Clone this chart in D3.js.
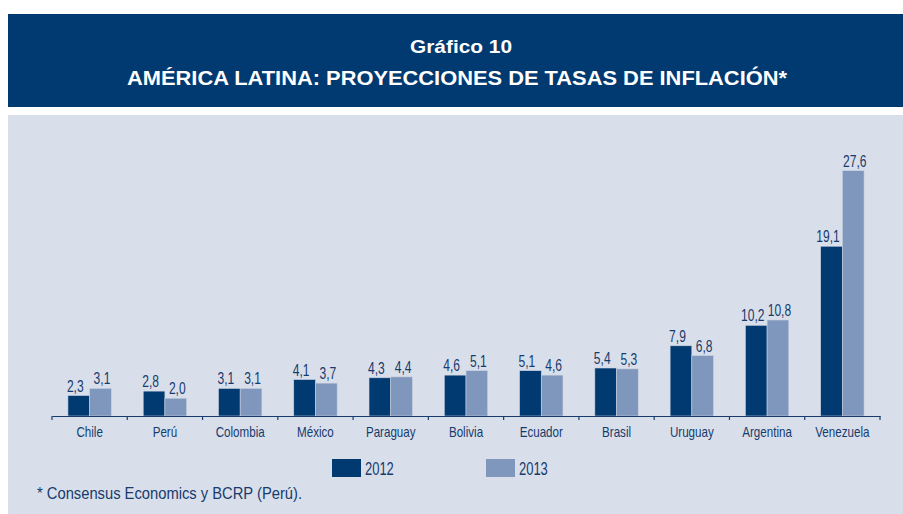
<!DOCTYPE html>
<html>
<head>
<meta charset="utf-8">
<script src="https://cdn.jsdelivr.net/npm/d3@7"></script>
<style>
  body { margin: 0; background: #fff; }
  svg text { font-family: "Liberation Sans", Arial, sans-serif; }
</style>
</head>
<body>
<div id="chart"></div>
<script>
// data
var countries = ["Chile", "Perú", "Colombia", "México", "Paraguay", "Bolivia", "Ecuador", "Brasil", "Uruguay", "Argentina", "Venezuela"];
var series2012 = [2.3, 2.8, 3.1, 4.1, 4.3, 4.6, 5.1, 5.4, 7.9, 10.2, 19.1];
var series2013 = [3.1, 2.0, 3.1, 3.7, 4.4, 5.1, 4.6, 5.3, 6.8, 10.8, 27.6];
var years = ["2012", "2013"];

var colors = { "2012": "#013a70", "2013": "#7f97bd" };
var textColor = "#163b6d";

var W = 903, H = 514;
var svg = d3.select("#chart").append("svg")
    .attr("width", W)
    .attr("height", H);

// squeeze a text horizontally (the original uses a condensed face)
function condense(sel, factor) {
    sel.each(function() {
        var t = d3.select(this);
        var tx = +t.attr("x") || 0, ty = +t.attr("y") || 0;
        t.attr("x", 0).attr("y", 0)
            .attr("transform", "translate(" + tx + "," + ty + ") scale(" + factor + ",1)");
    });
}

// header band
svg.append("rect")
    .attr("x", 8).attr("y", 14)
    .attr("width", W - 8).attr("height", 93)
    .attr("fill", "#013a70");

svg.append("text")
    .attr("x", 461).attr("y", 53)
    .attr("text-anchor", "middle")
    .attr("fill", "#fff")
    .style("font-weight", "bold")
    .style("font-size", "19px")
    .attr("textLength", 102)
    .attr("lengthAdjust", "spacingAndGlyphs")
    .text("Gráfico 10");

svg.append("text")
    .attr("x", 457).attr("y", 85)
    .attr("text-anchor", "middle")
    .attr("fill", "#fff")
    .style("font-weight", "bold")
    .style("font-size", "20px")
    .attr("textLength", 660)
    .attr("lengthAdjust", "spacingAndGlyphs")
    .text("AMÉRICA LATINA: PROYECCIONES DE TASAS DE INFLACIÓN*");

// panel
svg.append("rect")
    .attr("x", 8).attr("y", 115)
    .attr("width", W - 8).attr("height", H - 115)
    .attr("fill", "#d9dfea");

var margin = { left: 52, right: 23 };
var plotW = W - margin.left - margin.right;   // 828
var baseY = 416;

var g = svg.append("g")
    .attr("transform", "translate(" + margin.left + ",0)");

var x = d3.scaleBand()
    .domain(countries)
    .range([0, plotW]);

var x1 = d3.scaleBand()
    .domain(years)
    .range([0, 43.4]);

var y = d3.scaleLinear()
    .domain([0, 27.6])
    .range([baseY, 170.7]);

var rows = countries.map(function(c, i) {
    return { country: c, values: [
        { year: "2012", v: series2012[i] },
        { year: "2013", v: series2013[i] }
    ]};
});

var groups = g.selectAll(".grp")
    .data(rows)
    .enter().append("g")
    .attr("class", "grp")
    .attr("transform", function(d) {
        return "translate(" + (x(d.country) + (x.bandwidth() - 43.4) / 2) + ",0)";
    });

groups.selectAll("rect")
    .data(function(d) { return d.values; })
    .enter().append("rect")
    .attr("x", function(d) { return x1(d.year); })
    .attr("y", function(d) { return y(d.v); })
    .attr("width", x1.bandwidth())
    .attr("height", function(d) { return baseY - y(d.v); })
    .attr("fill", function(d) { return colors[d.year]; })
    .attr("stroke", "#c9d1e1")
    .attr("stroke-width", 0.6);

// labels sit a little outward from the bar centres, as in the original
var labelShift = { "2012": -3.5, "2013": 1.5 };
groups.selectAll(".val")
    .data(function(d) { return d.values; })
    .enter().append("text")
    .attr("class", "val")
    .attr("x", function(d) { return x1(d.year) + x1.bandwidth() / 2 + labelShift[d.year]; })
    .attr("y", function(d) { return y(d.v) - 4; })
    .attr("text-anchor", "middle")
    .attr("fill", textColor)
    .style("font-size", "17px")
    .text(function(d) { return d3.format(".1f")(d.v).replace(".", ","); })
    .call(condense, 0.71);

// x axis
var xAxis = d3.axisBottom(x).tickSize(0).tickPadding(10);
var axisG = g.append("g")
    .attr("transform", "translate(0," + baseY + ")")
    .call(xAxis);
axisG.select(".domain").attr("stroke", textColor).attr("stroke-width", 1.2);
axisG.selectAll(".tick text")
    .attr("fill", textColor)
    .attr("dy", 0).attr("y", 21)
    .style("font-size", "14.5px")
    .style("font-family", "'Liberation Sans', Arial, sans-serif")
    .call(condense, 0.8);

// boundary ticks between categories
var edges = countries.map(function(c) { return x(c); }).concat([plotW]);
axisG.selectAll(".edge")
    .data(edges)
    .enter().append("line")
    .attr("class", "edge")
    .attr("x1", function(d) { return d; })
    .attr("x2", function(d) { return d; })
    .attr("y1", 0).attr("y2", 4)
    .attr("stroke", textColor)
    .attr("stroke-width", 1.2);

// legend
var legendX = [332, 486];
var legend = svg.selectAll(".legend")
    .data(years)
    .enter().append("g")
    .attr("class", "legend")
    .attr("transform", function(d, i) { return "translate(" + legendX[i] + ",459)"; });

legend.append("rect")
    .attr("width", 29).attr("height", 18)
    .attr("fill", function(d) { return colors[d]; });

legend.append("text")
    .attr("x", 33).attr("y", 16)
    .attr("fill", textColor)
    .style("font-size", "18px")
    .text(function(d) { return d; })
    .call(condense, 0.72);

// footnote
svg.append("text")
    .attr("x", 37).attr("y", 499)
    .attr("fill", textColor)
    .style("font-size", "16px")
    .attr("textLength", 265)
    .attr("lengthAdjust", "spacingAndGlyphs")
    .text("* Consensus Economics y BCRP (Perú).");
</script>
</body>
</html>
